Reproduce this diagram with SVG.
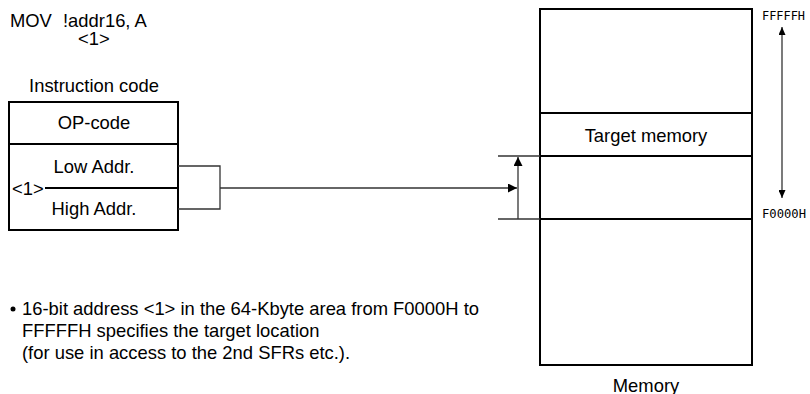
<svg xmlns="http://www.w3.org/2000/svg" width="810" height="394" viewBox="0 0 810 394">
<style>
text{font-family:"Liberation Sans",Arial,sans-serif;font-size:18.4px;fill:#000}
.m{font-family:"DejaVu Sans Mono","Liberation Mono",monospace;font-size:12.7px}
.c{text-anchor:middle}
.box{fill:#fff;stroke:#000;stroke-width:2}
.ln{stroke:#000;stroke-width:2;fill:none}
.cn{stroke:#333;stroke-width:1.3;fill:none}
</style>
<defs>
<marker id="ah" viewBox="0 0 9 9" refX="9" refY="4.5" markerWidth="9" markerHeight="9" markerUnits="userSpaceOnUse" orient="auto-start-reverse">
<path d="M0,0 L9,4.5 L0,9 Z" fill="#000"/>
</marker>
<marker id="as" viewBox="0 0 8 7" refX="8" refY="3.5" markerWidth="8" markerHeight="7" markerUnits="userSpaceOnUse" orient="auto-start-reverse">
<path d="M0,0 L8,3.5 L0,7 Z" fill="#000"/>
</marker>
</defs>
<g id="title">
<text x="10" y="27">MOV</text>
<text x="63" y="27">!addr16, A</text>
<text x="78" y="45">&lt;1&gt;</text>
</g>
<g id="instruction">
<text class="c" x="94" y="92">Instruction code</text>
<rect class="box" x="9" y="102" width="169" height="128"/>
<line class="ln" x1="9" y1="144" x2="178" y2="144"/>
<line class="ln" x1="45" y1="188" x2="178" y2="188"/>
<text class="c" x="94" y="129">OP-code</text>
<text class="c" x="94" y="173">Low Addr.</text>
<text class="c" x="94" y="215">High Addr.</text>
<text x="12" y="195">&lt;1&gt;</text>
</g>
<g id="memory">
<rect class="box" x="540" y="9" width="212" height="356"/>
<line class="ln" x1="540" y1="113" x2="752" y2="113"/>
<line class="ln" x1="540" y1="156" x2="752" y2="156"/>
<line class="ln" x1="540" y1="219" x2="752" y2="219"/>
<text class="c" x="646" y="142">Target memory</text>
<text class="c" x="646" y="392">Memory</text>
<text class="m" x="762" y="19.5" textLength="43" lengthAdjust="spacingAndGlyphs">FFFFFH</text>
<text class="m" x="762" y="218" textLength="44" lengthAdjust="spacingAndGlyphs">F0000H</text>
</g>
<g id="note">
<circle cx="13" cy="309" r="2.5"/>
<text x="22" y="315">16-bit address &lt;1&gt; in the 64-Kbyte area from F0000H to</text>
<text x="22" y="337">FFFFFH specifies the target location</text>
<text x="22" y="359">(for use in access to the 2nd SFRs etc.).</text>
</g>
<g id="connectors">
<polyline class="cn" points="178,166 220,166 220,209 178,209"/>
<line class="cn" x1="220" y1="188" x2="517" y2="188" marker-end="url(#ah)"/>
<line class="cn" x1="498" y1="156" x2="540" y2="156"/>
<line class="cn" x1="498" y1="219" x2="540" y2="219"/>
<line class="cn" x1="518" y1="219" x2="518" y2="157" marker-end="url(#ah)"/>
<line class="cn" x1="782" y1="198" x2="782" y2="27" marker-start="url(#as)" marker-end="url(#as)"/>
</g>
</svg>
